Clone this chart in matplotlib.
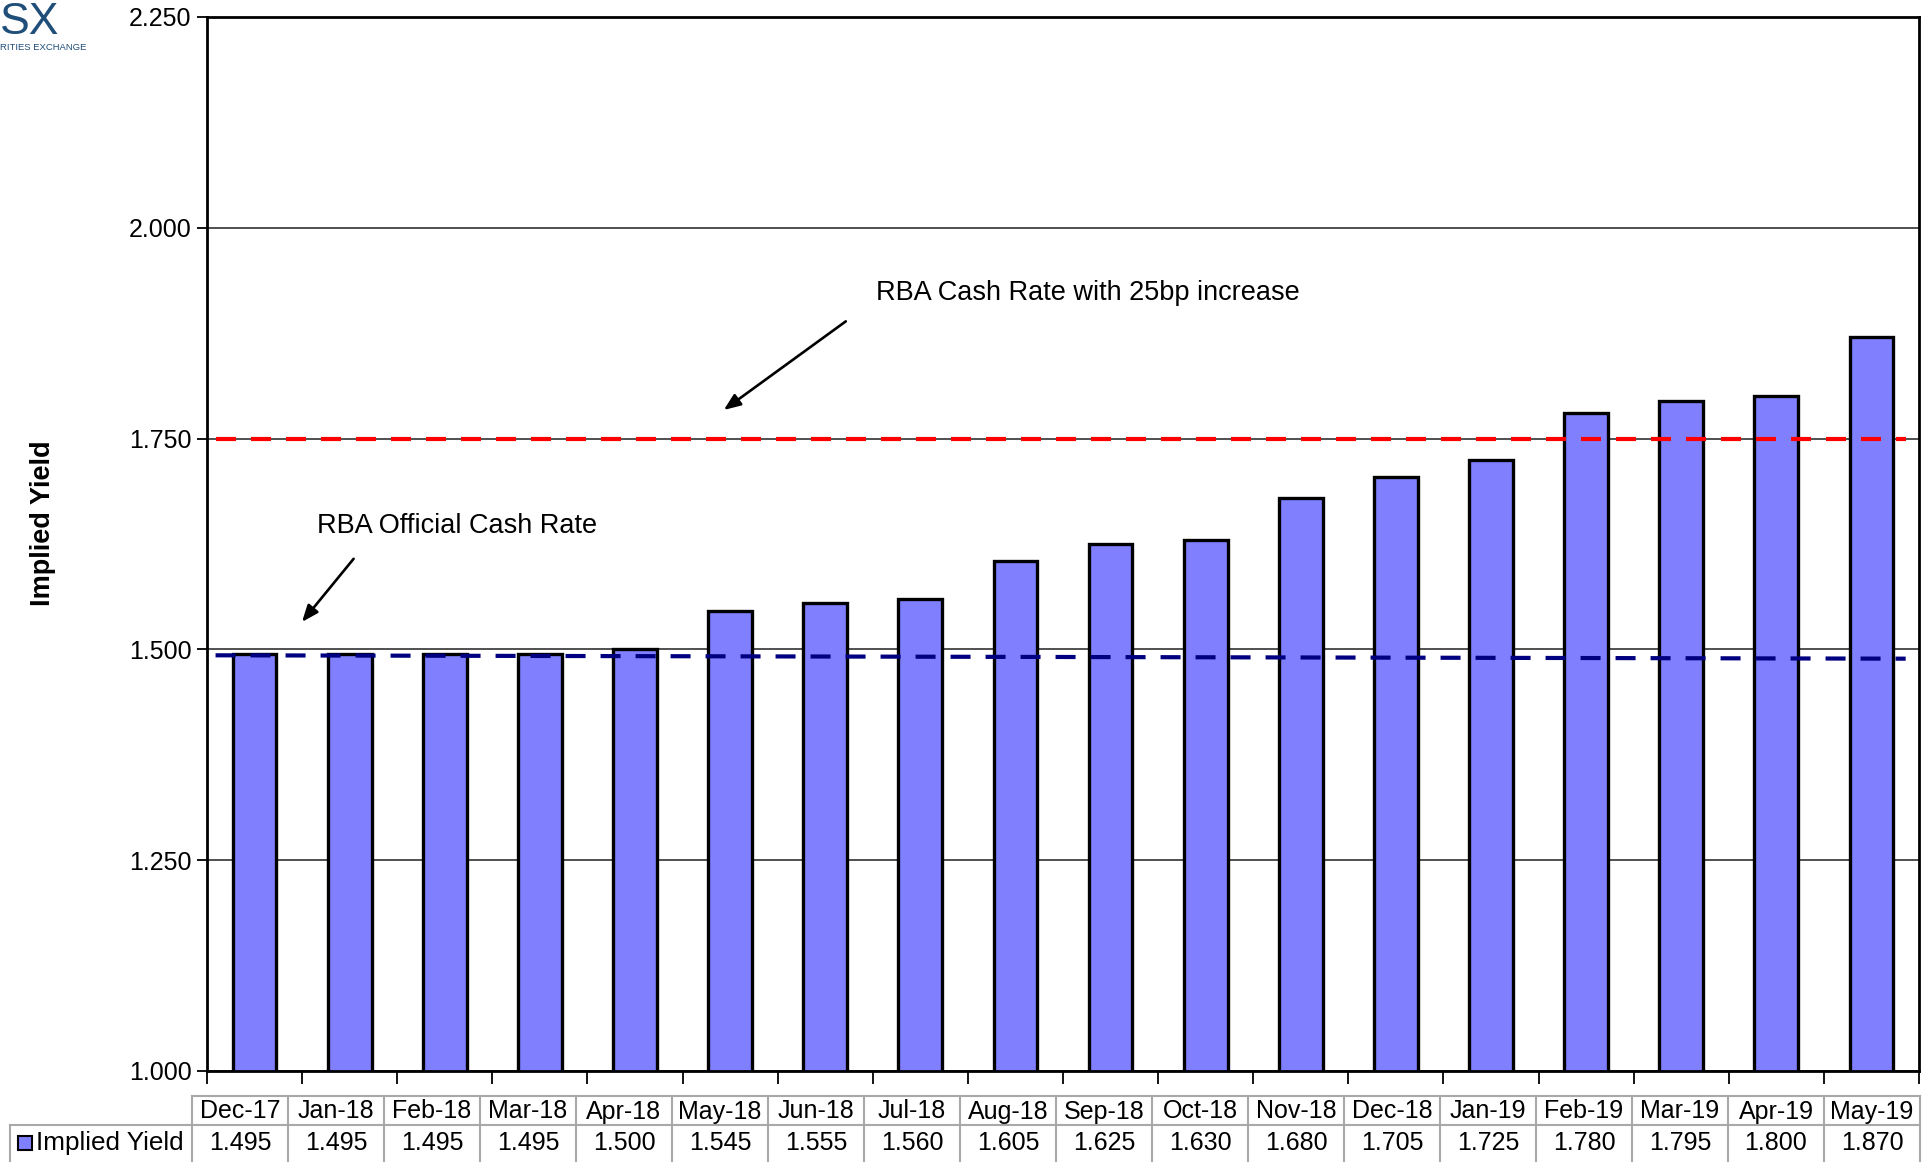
import matplotlib
matplotlib.use("Agg")
import matplotlib.pyplot as plt
from matplotlib.patches import Rectangle
import numpy as np

plt.rcParams['font.family'] = ['Liberation Sans', 'DejaVu Sans']

months = ["Dec-17", "Jan-18", "Feb-18", "Mar-18", "Apr-18", "May-18", "Jun-18",
          "Jul-18", "Aug-18", "Sep-18", "Oct-18", "Nov-18", "Dec-18", "Jan-19",
          "Feb-19", "Mar-19", "Apr-19", "May-19"]
implied_yield = [1.495, 1.495, 1.495, 1.495, 1.500, 1.545, 1.555, 1.560, 1.605,
                 1.625, 1.630, 1.680, 1.705, 1.725, 1.780, 1.795, 1.800, 1.870]
yticks = [1.000, 1.250, 1.500, 1.750, 2.000, 2.250]

# reference lines as drawn (start, end)
cash_rate_line = [1.493, 1.489]
hike_line = [1.749, 1.749]
line_x = [-0.41, 17.36]

W, H = 1928, 1162
fig = plt.figure(figsize=(W / 100, H / 100), dpi=100)
ax = fig.add_axes([207 / W, 1 - 1071 / H, (1919 - 207) / W, (1071 - 17) / H])

x = np.arange(len(months))
ax.bar(x, implied_yield, width=0.46, color="#8080FF", edgecolor="black",
       linewidth=2.4, zorder=2)
ax.plot(line_x, hike_line, color="#FF0000", lw=3, dashes=(4.8, 3.6), zorder=3)
ax.plot(line_x, cash_rate_line, color="#000080", lw=3, dashes=(4.8, 3.6), zorder=3)

ax.set_xlim(-0.5, len(months) - 0.5)
ax.set_ylim(1.0, 2.25)
ax.set_yticks(yticks, labels=[f"{v:.3f}" for v in yticks], fontsize=18)
ax.set_xticks(np.arange(-0.5, len(months)), labels=[])
ax.tick_params(axis="y", direction="out", length=7, width=1.3, pad=4)
ax.tick_params(axis="x", direction="out", length=9, width=1.3)
ax.grid(axis="y", color="#202020", linewidth=1.1, zorder=0)
ax.set_axisbelow(True)
for s in ax.spines.values():
    s.set_linewidth(2)
ax.set_ylabel("Implied Yield", fontsize=19.5, fontweight="bold")
ax.yaxis.set_label_coords(-0.088, 0.52)

arrow = dict(arrowstyle="-|>,head_length=1.0,head_width=0.4", color="black", lw=1.9)
ax.text(0.66, 1.646, "RBA Official Cash Rate", fontsize=19.5, va="center", ha="left")
ax.annotate("", xy=(0.48, 1.530), xytext=(1.06, 1.610), arrowprops=arrow)
ax.text(6.53, 1.923, "RBA Cash Rate with 25bp increase", fontsize=19.5,
        va="center", ha="left")
ax.annotate("", xy=(4.91, 1.782), xytext=(6.24, 1.891), arrowprops=arrow)

# data table drawn in pixel coordinates
tax = fig.add_axes([0, 0, 1, 1])
tax.set_xlim(0, W)
tax.set_ylim(H, 0)
tax.axis("off")
grid_c = "#A8A8A8"
t_left, cell_w = 192, 96
row_top, row_mid, row_bot = 1096, 1125, 1170
t_right = t_left + cell_w * len(months)
tax.plot([t_left, t_right], [row_top, row_top], color=grid_c, lw=1.5)
tax.plot([10, t_right], [row_mid, row_mid], color=grid_c, lw=1.5)
tax.plot([10, 10], [row_mid, row_bot], color=grid_c, lw=1.5)
for i in range(len(months) + 1):
    xe = t_left + i * cell_w
    tax.plot([xe, xe], [row_top, row_bot], color=grid_c, lw=1.5)
for i, (m, v) in enumerate(zip(months, implied_yield)):
    xc = t_left + (i + 0.5) * cell_w
    tax.text(xc, (row_top + row_mid) / 2 + 1, m, ha="center", va="center", fontsize=18)
    tax.text(xc, 1143, f"{v:.3f}", ha="center", va="center", fontsize=18)
tax.add_patch(Rectangle((18, 1136), 14, 14, facecolor="#8080FF", edgecolor="black", lw=1.5))
tax.text(36, 1143, "Implied Yield", ha="left", va="center", fontsize=18.8)

# logo fragment in the corner
fig.text(0, 1 - 2 / H, "SX", ha="left", va="top", fontsize=32, color="#1F4E79")
fig.text(0, 1 - 47 / H, "RITIES EXCHANGE", ha="left", va="center",
         fontsize=6.8, color="#1F4E79")

fig.savefig("out.png", dpi=100)
